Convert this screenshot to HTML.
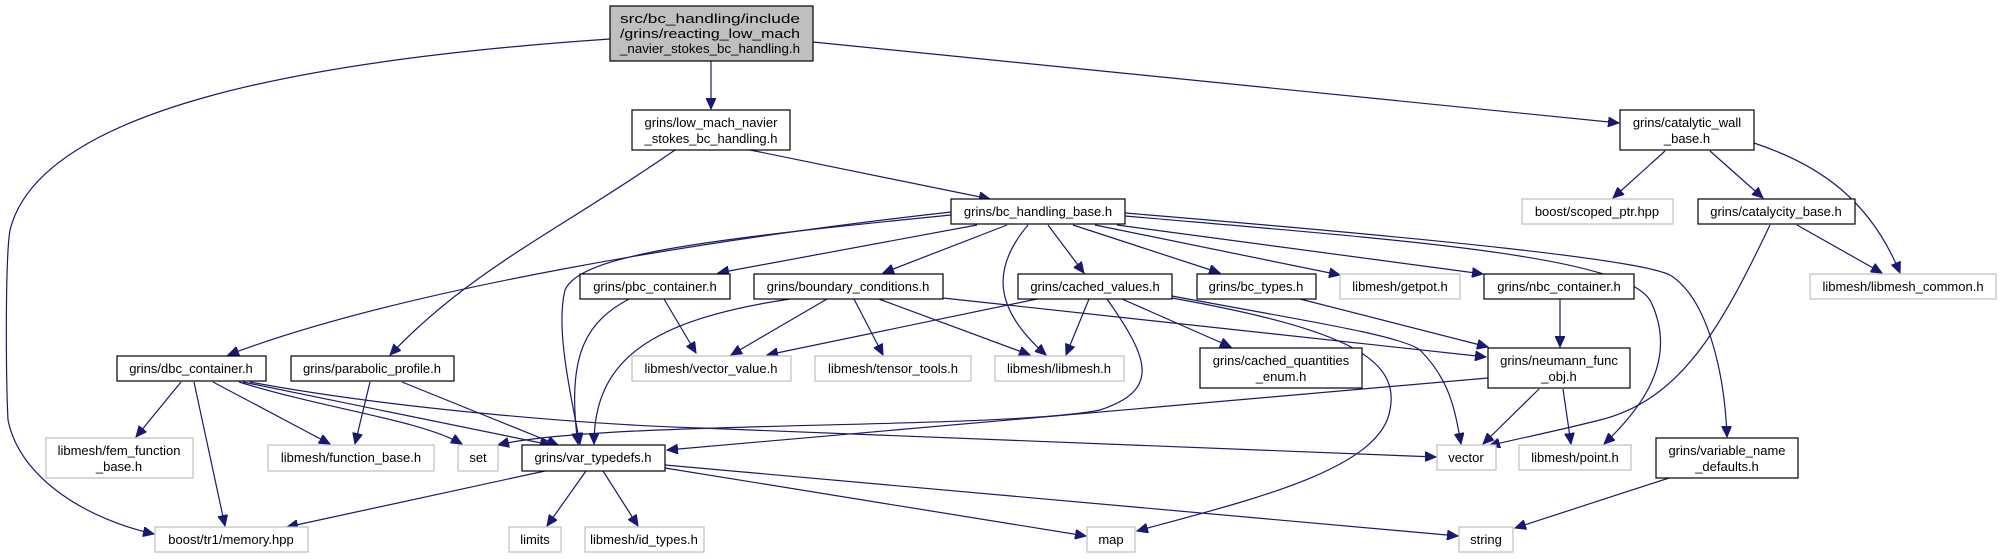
<!DOCTYPE html>
<html><head><meta charset="utf-8"><style>
html,body{margin:0;padding:0;background:#fff;}
svg{display:block;}
text{font-family:"Liberation Sans",Arial,sans-serif;font-size:13px;fill:#000;}
.n{fill:#fff;stroke:#000;stroke-width:1.2;}
.g{fill:#fff;stroke:#bfbfbf;stroke-width:1.2;}
.e{fill:none;stroke:#191970;stroke-width:1.2;marker-end:url(#a);}
</style></head><body>
<svg width="2002" height="559" viewBox="0 0 2002 559" xmlns="http://www.w3.org/2000/svg">
<defs><marker id="a" markerUnits="userSpaceOnUse" markerWidth="12" markerHeight="10" refX="11" refY="5" orient="auto"><path d="M0,0 L11,5 L0,10 z" fill="#191970" stroke="#191970"/></marker></defs>

<!-- edges -->
<path class="e" d="M711,61 L711,109"/>
<path class="e" d="M813,42 L1619,123"/>
<path class="e" d="M610,39 C300,60 40,110 10,230 C5,260 6,380 8,420 C20,480 90,520 154,534"/>
<path class="e" d="M750,150 L990,199"/>
<path class="e" d="M675,150 C560,230 470,270 390,355"/>
<path class="e" d="M951,212 C700,240 400,290 228,355"/>
<path class="e" d="M951,215 C700,240 580,255 565,290 C555,330 572,400 580,444"/>
<path class="e" d="M629,299 C590,320 565,350 578,444"/>
<path class="e" d="M790,299 C650,320 594,360 594,444"/>
<path class="e" d="M977,225 L718,273"/>
<path class="e" d="M1007,225 L883,273"/>
<path class="e" d="M1028,225 C990,270 995,310 1046,355"/>
<path class="e" d="M1048,225 L1084,273"/>
<path class="e" d="M1073,225 L1220,273"/>
<path class="e" d="M1095,225 L1340,275"/>
<path class="e" d="M1117,225 L1483,274"/>
<path class="e" d="M1125,216 C1400,240 1620,255 1650,300 C1680,360 1640,410 1604,444"/>
<path class="e" d="M1125,213 C1450,240 1640,260 1670,275 C1710,300 1725,380 1727,437"/>
<path class="e" d="M664,299 L696,353"/>
<path class="e" d="M827,299 L731,355"/>
<path class="e" d="M854,299 L883,355"/>
<path class="e" d="M879,299 L1030,355"/>
<path class="e" d="M943,298 L1486,357"/>
<path class="e" d="M1037,299 L767,355"/>
<path class="e" d="M1089,299 L1066,355"/>
<path class="e" d="M1107,299 C1150,360 1160,390 1100,410 C1000,430 600,420 498,445"/>
<path class="e" d="M1122,299 L1231,347"/>
<path class="e" d="M1172,298 C1350,330 1400,360 1390,410 C1380,470 1250,500 1137,531"/>
<path class="e" d="M1172,296 C1300,320 1400,335 1420,350 C1450,380 1455,410 1461,444"/>
<path class="e" d="M1300,299 L1488,347"/>
<path class="e" d="M1560,299 L1560,347"/>
<path class="e" d="M1488,378 L667,450"/>
<path class="e" d="M1539,389 L1483,444"/>
<path class="e" d="M1563,389 L1571,444"/>
<path class="e" d="M1665,151 L1613,198"/>
<path class="e" d="M1710,151 L1763,198"/>
<path class="e" d="M1754,143 C1820,165 1870,200 1900,273"/>
<path class="e" d="M1797,225 L1882,273"/>
<path class="e" d="M1770,225 C1720,330 1680,400 1600,420 C1540,435 1510,440 1489,446"/>
<path class="e" d="M1669,478 L1515,528"/>
<path class="e" d="M665,465 L1458,536"/>
<path class="e" d="M665,468 L1086,536"/>
<path class="e" d="M545,471 L287,527"/>
<path class="e" d="M586,471 L547,526"/>
<path class="e" d="M603,471 L638,526"/>
<path class="e" d="M181,382 L136,437"/>
<path class="e" d="M194,382 L225,526"/>
<path class="e" d="M213,382 L330,444"/>
<path class="e" d="M239,382 C330,410 420,420 462,444"/>
<path class="e" d="M243,382 L551,445"/>
<path class="e" d="M250,382 C400,410 600,425 700,428 L1436,457"/>
<path class="e" d="M370,382 L355,444"/>
<path class="e" d="M402,382 L558,445"/>

<!-- nodes -->
<rect x="610" y="6" width="203" height="55" fill="#bfbfbf" stroke="#000" stroke-width="1.2"/>
<text x="620" y="23" textLength="180" lengthAdjust="spacingAndGlyphs">src/bc_handling/include</text>
<text x="620" y="38" textLength="180" lengthAdjust="spacingAndGlyphs">/grins/reacting_low_mach</text>
<text x="620" y="53" textLength="180" lengthAdjust="spacingAndGlyphs">_navier_stokes_bc_handling.h</text>

<rect class="n" x="632" y="110" width="158" height="40"/>
<text x="711" y="127" text-anchor="middle">grins/low_mach_navier</text>
<text x="711" y="143" text-anchor="middle">_stokes_bc_handling.h</text>

<rect class="n" x="1620" y="110" width="134" height="40"/>
<text x="1687" y="127" text-anchor="middle">grins/catalytic_wall</text>
<text x="1687" y="143" text-anchor="middle">_base.h</text>

<rect class="n" x="951" y="199" width="174" height="25"/>
<text x="1038" y="216" text-anchor="middle">grins/bc_handling_base.h</text>

<rect class="g" x="1522" y="199" width="151" height="25"/>
<text x="1597" y="216" text-anchor="middle">boost/scoped_ptr.hpp</text>

<rect class="n" x="1698" y="199" width="157" height="25"/>
<text x="1776" y="216" text-anchor="middle">grins/catalycity_base.h</text>

<rect class="n" x="580" y="274" width="150" height="25"/>
<text x="655" y="291" text-anchor="middle">grins/pbc_container.h</text>

<rect class="n" x="754" y="274" width="189" height="25"/>
<text x="848" y="291" text-anchor="middle">grins/boundary_conditions.h</text>

<rect class="n" x="1018" y="274" width="154" height="25"/>
<text x="1095" y="291" text-anchor="middle">grins/cached_values.h</text>

<rect class="n" x="1197" y="274" width="119" height="25"/>
<text x="1256" y="291" text-anchor="middle">grins/bc_types.h</text>

<rect class="g" x="1340" y="274" width="120" height="25"/>
<text x="1400" y="291" text-anchor="middle">libmesh/getpot.h</text>

<rect class="n" x="1484" y="274" width="150" height="25"/>
<text x="1559" y="291" text-anchor="middle">grins/nbc_container.h</text>

<rect class="g" x="1810" y="274" width="186" height="25"/>
<text x="1903" y="291" text-anchor="middle">libmesh/libmesh_common.h</text>

<rect class="n" x="117" y="356" width="149" height="25"/>
<text x="191" y="373" text-anchor="middle">grins/dbc_container.h</text>

<rect class="n" x="291" y="356" width="163" height="25"/>
<text x="372" y="373" text-anchor="middle">grins/parabolic_profile.h</text>

<rect class="g" x="632" y="356" width="159" height="25"/>
<text x="711" y="373" text-anchor="middle">libmesh/vector_value.h</text>

<rect class="g" x="815" y="356" width="156" height="25"/>
<text x="893" y="373" text-anchor="middle">libmesh/tensor_tools.h</text>

<rect class="g" x="995" y="356" width="129" height="25"/>
<text x="1059" y="373" text-anchor="middle">libmesh/libmesh.h</text>

<rect class="n" x="1200" y="348" width="162" height="40"/>
<text x="1281" y="365" text-anchor="middle">grins/cached_quantities</text>
<text x="1281" y="381" text-anchor="middle">_enum.h</text>

<rect class="n" x="1488" y="348" width="142" height="40"/>
<text x="1559" y="365" text-anchor="middle">grins/neumann_func</text>
<text x="1559" y="381" text-anchor="middle">_obj.h</text>

<rect class="g" x="46" y="438" width="147" height="40"/>
<text x="119" y="455" text-anchor="middle">libmesh/fem_function</text>
<text x="119" y="471" text-anchor="middle">_base.h</text>

<rect class="g" x="268" y="445" width="166" height="26"/>
<text x="351" y="462" text-anchor="middle">libmesh/function_base.h</text>

<rect class="g" x="458" y="445" width="40" height="26"/>
<text x="478" y="462" text-anchor="middle">set</text>

<rect class="n" x="522" y="445" width="143" height="26"/>
<text x="593" y="462" text-anchor="middle">grins/var_typedefs.h</text>

<rect class="g" x="1437" y="445" width="59" height="25"/>
<text x="1466" y="462" text-anchor="middle">vector</text>

<rect class="g" x="1519" y="445" width="112" height="25"/>
<text x="1575" y="462" text-anchor="middle">libmesh/point.h</text>

<rect class="n" x="1656" y="438" width="142" height="40"/>
<text x="1727" y="455" text-anchor="middle">grins/variable_name</text>
<text x="1727" y="471" text-anchor="middle">_defaults.h</text>

<rect class="g" x="155" y="527" width="153" height="25"/>
<text x="231" y="544" text-anchor="middle">boost/tr1/memory.hpp</text>

<rect class="g" x="509" y="527" width="52" height="25"/>
<text x="535" y="544" text-anchor="middle">limits</text>

<rect class="g" x="585" y="527" width="119" height="25"/>
<text x="644" y="544" text-anchor="middle">libmesh/id_types.h</text>

<rect class="g" x="1087" y="527" width="48" height="25"/>
<text x="1111" y="544" text-anchor="middle">map</text>

<rect class="g" x="1459" y="527" width="54" height="25"/>
<text x="1486" y="544" text-anchor="middle">string</text>
</svg>
</body></html>
